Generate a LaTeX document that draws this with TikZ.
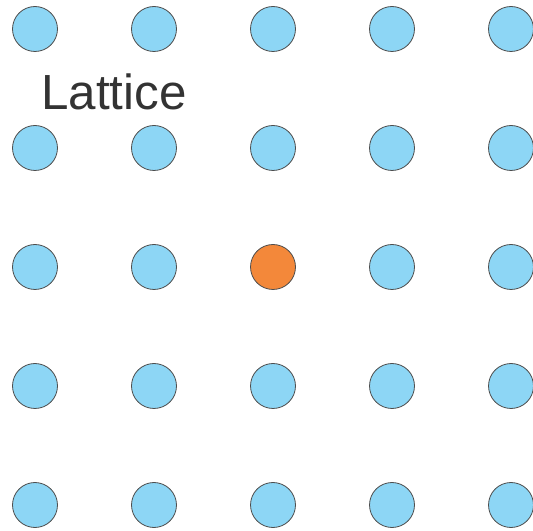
\documentclass[tikz,border=0pt]{standalone}
\usepackage{fontspec}
\setmainfont{Liberation Sans}

\definecolor{celeste}{HTML}{8DD6F5}
\definecolor{naranja}{HTML}{F3883A}
\definecolor{borde}{HTML}{4D4D4D}
\definecolor{texto}{HTML}{333333}

\tikzset{
  punto/.style={circle, draw=borde, line width=0.6pt, minimum size=33.75pt, inner sep=0pt},
  etiqueta/.style={text=texto, inner sep=0pt, font=\fontsize{37}{40}\selectfont}
}

\begin{document}
\begin{tikzpicture}[x=0.75pt, y=-0.75pt] % 1 unidad = 1 pixel

        % Marco de la figura
        \useasboundingbox (0,0) rectangle (533,531);

        % Puntos de la red (el del centro en naranja)
        \foreach \i in {0,...,4}{
          \foreach \j in {0,...,4}{
            \ifnum\i=2 \ifnum\j=2
              \def\relleno{naranja}
            \else
              \def\relleno{celeste}
            \fi \else
              \def\relleno{celeste}
            \fi
            \node[punto, fill=\relleno] (p\i\j) at ({35+119*\i},{29+119*\j}) {};
          }
        }

        % Etiqueta
        \node[etiqueta, anchor=base west] (titulo) at (41,110) {Lattice};

\end{tikzpicture}
\end{document}
